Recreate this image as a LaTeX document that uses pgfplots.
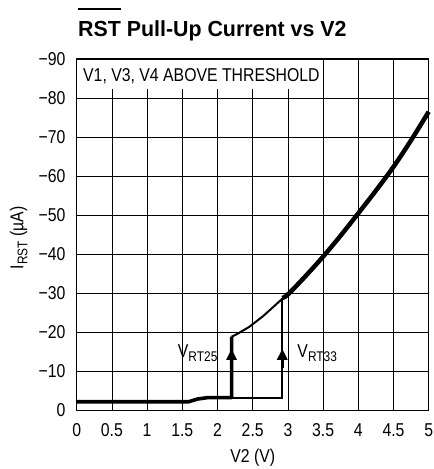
\documentclass[border=0pt]{standalone}
\usepackage{pgfplots}
\pgfplotsset{compat=1.18}
\usepackage{fontspec}
\usetikzlibrary{arrows.meta}
\setmainfont{Liberation Sans}[FakeStretch=0.85]
\newfontfamily\titlefont{Liberation Sans}[FakeStretch=0.98]
\newcommand\lab{\fontsize{18.6bp}{21bp}\selectfont}
\newcommand\sub[1]{\raisebox{-4bp}{\fontsize{14bp}{15bp}\selectfont #1}}
\begin{document}
\begin{tikzpicture}
\begin{axis}[name=ax,
  width=352bp, height=351.5bp, scale only axis,
  xmin=0, xmax=5, ymin=-90, ymax=0, y dir=reverse,
  xtick={0,0.5,1,1.5,2,2.5,3,3.5,4,4.5,5},
  xticklabels={0,0.5,1,1.5,2,2.5,3,3.5,4,4.5,5},
  ytick={-90,-80,-70,-60,-50,-40,-30,-20,-10,0},
  yticklabels={−90,−80,−70,−60,−50,−40,−30,−20,−10,0},
  grid=major, major grid style={black, line width=0.8bp},
  axis line style={line width=1.5bp},
  major tick length=0pt,
  tick label style={font=\lab, inner sep=0pt},
  xticklabel style={anchor=north, yshift=-12.8bp},
  yticklabel style={anchor=east, xshift=-11bp},
  clip=false]
\addplot[black, line width=3.6bp, line join=round] coordinates {
 (0,-2.25) (1.59,-2.25) (1.72,-2.95) (1.86,-3.3) (2.2,-3.3) (2.2,-18.9)};
\addplot[black, line width=2.4bp] coordinates {
 (2.2,-3.2) (2.92,-3.2) (2.92,-28.8)};
\addplot[black, line width=2bp] coordinates {
 (2.2,-18.9) (2.27,-19.5) (2.45,-21.4) (2.65,-24.2) (2.92,-28.6)};
\addplot[black, line width=4.5bp, smooth] coordinates {
 (2.92,-28.8) (3.0,-29.7) (3.25,-34.4) (3.5,-39.4) (3.75,-44.8) (4.0,-50.5) (4.25,-56.3) (4.5,-62.4) (4.75,-69.2) (5.0,-76.5)};
\addplot[black, line width=2.8bp, -{Triangle[width=10bp 0,length=11bp 0]}] coordinates {(2.2,-11) (2.2,-15.8)};
\addplot[black, line width=2.8bp, -{Triangle[width=10bp 0,length=11bp 0]}] coordinates {(2.92,-11) (2.92,-15.8)};
\node[anchor=base east, inner sep=0pt, xshift=-14bp] at (axis cs:2.2,-13.6) {\lab V\sub{RT25}};
\node[anchor=base west, inner sep=0pt, xshift=15bp] at (axis cs:2.92,-13.6) {\lab V\sub{RT33}};
\end{axis}
\fill[white] ([xshift=0.8bp,yshift=-0.8bp]ax.north west) rectangle ([xshift=243.3bp,yshift=-29.7bp]ax.north west);
\node[anchor=base west, inner sep=0pt] at ([xshift=6.3bp,yshift=-22.7bp]ax.north west) {\lab V1, V3, V4 ABOVE THRESHOLD};
\node[anchor=base west, inner sep=0pt] at ([xshift=1.3bp,yshift=23bp]ax.north west) {\fontsize{21.8bp}{24bp}\titlefont\bfseries\setbox0\hbox{RST}\rlap{\rule[26.5bp]{\wd0}{1.3bp}}\box0{} Pull-Up Current vs V2};
\node[anchor=base, inner sep=0pt] at ([yshift=-52bp]ax.south) {\lab V2 (V)};
\node[anchor=base, rotate=90, inner sep=0pt] at ([xshift=-53.4bp,yshift=-3bp]ax.west) {\lab I\sub{RST} (µA)};
\useasboundingbox ([xshift=-76.7bp,yshift=-58.5bp]ax.south west) rectangle ++(431bp,469bp);
\end{tikzpicture}
\end{document}
